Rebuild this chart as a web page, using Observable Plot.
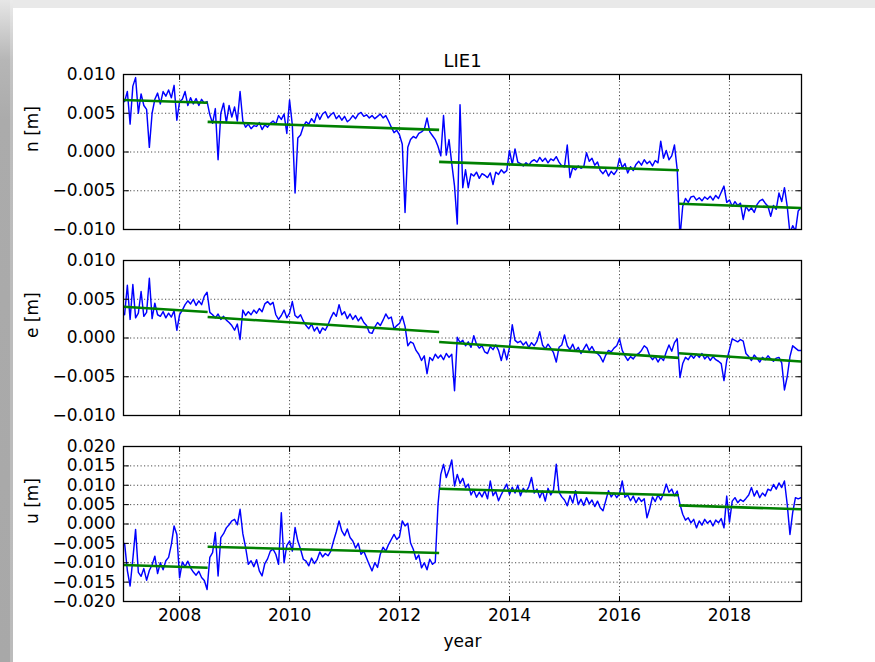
<!DOCTYPE html>
<html><head><meta charset="utf-8">
<script src="https://cdn.jsdelivr.net/npm/d3@7"></script>
<script src="https://cdn.jsdelivr.net/npm/@observablehq/plot@0.6"></script>
<style>
html,body{margin:0;padding:0;background:#fff;}
#wrap{position:relative;width:875px;height:662px;overflow:hidden;background:#fff;}
#wrap svg{display:block;}
.bandL{position:absolute;left:0;top:0;width:13px;height:662px;background:linear-gradient(to bottom,#e6e6e6 0px,#d2d2d2 25px,#b6b6b6 60px,#ababab 120px,#a8a8a8 100%);}
.bandL::after{content:"";position:absolute;right:0;top:0;width:3px;height:100%;background:rgba(255,255,255,0.22);}
.bandT{position:absolute;left:0;top:0;width:875px;height:8px;background:#e9e9e9;}
</style></head><body>
<div id="wrap"><div class="bandT"></div><div class="bandL"></div></div>
<script>
// Sampling of the series (decimal years)
const startYear = 2007.0;
const stepYear = 0.05;

// North component [mm]
const nValues = [
  6.5, 7.8, 3.6, 8.5, 9.6, 5.0, 7.5, 6.0, 5.5, 0.6, 5.0, 6.8, 7.6, 6.2, 7.8, 7.2, 8.0, 7.0, 8.6, 4.1,
  6.5, 6.8, 7.8, 6.0, 7.0, 6.2, 6.9, 6.0, 6.8, 6.3, 6.5, 4.8, 3.7, 5.6, -1.0, 5.0, 6.3, 3.8, 6.0, 4.5,
  5.8, 4.0, 7.8, 4.0, 3.2, 3.6, 3.0, 3.4, 3.3, 3.8, 2.9, 3.5, 3.2, 3.7, 4.0, 3.6, 4.7, 4.2, 4.9, 2.4,
  6.7, 3.5, -5.3, 1.8, 2.2, 3.3, 3.9, 3.6, 4.3, 3.8, 5.0, 4.2, 4.9, 5.2, 4.4, 4.8, 5.1, 4.3, 4.7, 4.1,
  4.6, 3.9, 4.2, 4.7, 4.3, 4.9, 5.1, 4.6, 4.8, 4.4, 4.7, 4.3, 4.6, 4.9, 4.4, 4.7, 4.0, 3.2, 2.5, 2.8,
  2.2, 1.0, -7.8, 0.6, 1.6, 2.0, 1.8, 2.4, 2.6, 2.9, 4.4, 2.6, 2.1, 1.6, 0.7, -0.5, 4.7, -0.4, 1.6, -1.5,
  -4.4, -9.3, 6.1, -4.6, -2.3, -4.6, -2.8, -3.1, -2.6, -3.4, -2.8, -3.0, -3.3, -2.7, -4.2, -2.6, -2.9, -2.3, -2.7, -2.4,
  0.2, -1.6, 0.4, -1.3, -1.5, -1.8, -1.4, -1.7, -1.2, -1.0, -1.3, -0.7, -1.2, -0.8, -1.4, -0.9, -1.1, -0.6, -1.3, -1.8,
  -1.9, 0.9, -3.3, -2.0, -2.3, -1.8, -2.1, -1.9, -0.1, -1.2, -0.8, -1.7, -1.3, -2.4, -2.8, -2.3, -3.1, -2.5, -2.9, -2.4,
  -0.8, -2.0, -1.5, -2.7, -1.9, -2.4, -1.6, -1.2, -1.7, -1.0, -1.5, -1.2, -1.8, -1.1, -1.4, 1.4, -0.8, 0.2, -1.0, -0.5,
  0.9, -2.3, -11.0, -7.0, -6.0, -6.5, -5.8, -5.7, -6.2, -5.9, -6.3, -5.8, -6.1, -5.7, -6.2, -5.6, -6.0, -5.2, -4.4, -6.5,
  -6.2, -7.0, -6.4, -6.9, -6.6, -8.7, -7.0, -7.6, -7.2, -7.8, -6.8, -6.3, -6.1, -6.6, -7.0, -8.3, -6.9, -7.4, -5.3, -6.4,
  -4.6, -7.0, -10.5, -9.5, -10.2, -7.6, -7.2
];

// East component [mm]
const eValues = [
  3.0, 6.8, 2.4, 6.9, 2.6, 3.2, 6.0, 2.8, 3.3, 7.7, 2.5, 4.5, 3.0, 2.8, 3.4, 2.6, 3.2, 2.7, 3.5, 1.0,
  3.0, 3.6, 4.3, 4.8, 4.4, 5.0, 4.2, 4.8, 4.3, 5.4, 5.9, 3.3, 3.0, 2.6, 3.1, 2.4, 2.8, 2.3, 2.0, 1.6,
  1.0, 1.8, -0.2, 3.6, 2.9, 3.4, 3.0, 3.6, 3.2, 3.8, 3.4, 4.4, 4.7, 4.3, 4.6, 3.0, 2.4, 2.9, 3.6, 2.6,
  3.2, 4.7, 2.9, 2.6, 3.0, 2.2, 1.6, 1.2, 1.8, 0.9, 1.4, 0.6, 1.3, 1.0, 1.7, 2.6, 3.3, 2.8, 4.3, 3.0,
  3.4, 2.5, 3.1, 2.4, 2.9, 2.2, 2.7, 2.0, 1.6, 0.7, 0.6, 1.4, 2.0, 1.6, 2.3, 3.1, 2.5, 2.7, 1.2, 1.6,
  1.9, 2.8, 1.5, -1.0, -0.5, -0.7, -1.6, -2.1, -2.9, -2.3, -4.6, -2.5, -2.9, -2.1, -2.6, -2.2, -2.8, -2.0, -2.5, -2.1,
  -6.8, 0.1, -0.6, -0.3, -1.0, -0.5, -1.2, 0.3, -0.8, -1.3, -1.0, -1.8, -2.0, -1.1, -1.5, -0.9, -1.6, -2.9, -1.4, -2.8,
  -1.2, 1.7, -0.3, -0.6, -0.4, -0.9, -0.5, -1.2, -0.6, -1.0, -0.4, 0.8, -0.9, -1.4, -0.8, -1.3, -1.9, -3.1, -1.2, -0.9,
  0.4, -1.0, -1.5, -0.8, -1.7, -1.2, -2.0, -1.4, -0.8, -1.6, -1.1, -1.8, -2.0, -2.4, -3.1, -2.2, -1.6, -1.8, -1.3, -1.0,
  -0.1, -1.6, -2.3, -2.9, -2.4, -2.7, -2.2, -2.0, -1.6, -1.0, -1.3, -2.3, -2.8, -2.4, -3.1, -2.5, -2.9, -1.8, -0.9, -1.7,
  -0.6, -0.1, -5.1, -3.3, -2.5, -2.8, -2.2, -2.6, -2.1, -2.5, -2.0, -2.7, -2.3, -2.9, -2.4, -2.8, -3.0, -3.3, -5.5, -2.9,
  -1.5, -0.1, -0.3, -0.5, -0.2, -0.4, -2.0, -2.4, -2.9, -2.2, -2.6, -3.1, -2.5, -2.8, -2.3, -2.7, -3.0, -2.6, -2.5, -3.2,
  -6.7, -5.0, -2.4, -1.0, -1.3, -1.6, -1.6
];

// Up component [mm]
const uValues = [
  -5.0, -12.0, -16.0, -9.0, -1.4, -12.5, -13.5, -11.5, -14.5, -12.0, -10.5, -8.3, -12.8, -10.0, -11.8, -9.5, -8.6, -5.3, -0.5, -2.7,
  -13.9, -9.8, -11.0, -9.6, -11.3, -12.4, -13.2, -12.2, -13.8, -14.6, -16.9, -8.6, -7.4, -2.2, -13.4, -3.5, -2.5, -1.0, -0.2, 0.8,
  1.2, -0.2, 3.8, -2.5, -6.0, -10.4, -9.5, -11.0, -9.2, -12.1, -13.4, -10.2, -9.0, -7.0, -6.5, -7.8, -10.4, 2.9, -10.0, -5.5,
  -4.4, -7.0, -0.9, -4.4, -6.5, -9.1, -9.6, -10.8, -8.8, -10.2, -9.2, -7.2, -8.5, -7.6, -8.2, -7.0, -4.4, -2.0, 0.8, -1.8,
  -3.0, -1.3, -3.5, -4.4, -6.2, -5.0, -7.8, -7.0, -8.8, -10.5, -12.1, -10.0, -11.2, -7.8, -6.0, -7.0, -5.3, -4.0, -2.7, -4.0,
  -3.2, 0.8, -0.5, 0.2, -4.9, -6.5, -9.1, -8.0, -11.3, -10.0, -11.8, -9.1, -10.4, -9.8, 5.1, 12.8, 15.4, 12.0, 14.0, 16.5,
  9.8, 12.8, 10.5, 11.8, 9.4, 10.3, 7.5, 8.8, 6.9, 8.2, 7.0, 8.6, 6.5, 11.1, 7.3, 8.4, 6.0, 7.6, 9.0, 10.3,
  7.6, 9.5, 8.0, 10.0, 7.3, 9.2, 8.3, 9.6, 12.0, 8.0, 9.0, 6.8, 8.5, 5.9, 9.2, 7.5, 8.8, 15.4, 8.2, 7.0,
  6.2, 4.7, 7.3, 5.4, 8.6, 5.0, 6.4, 4.8, 6.8, 5.2, 6.2, 4.5, 5.9, 4.2, 3.4, 6.0, 8.6, 7.0, 8.0, 6.8,
  7.8, 11.1, 6.9, 7.5, 6.0, 7.2, 5.5, 6.8, 5.8, 6.5, 1.6, 4.0, 7.0, 5.8, 7.5, 6.2, 7.8, 10.3, 8.2, 9.0,
  7.3, 8.5, 5.1, 2.5, 1.0, 1.6, 0.3, 1.2, -1.0, 0.8, -0.3, 1.2, 0.2, 0.9, -0.5, 1.0, 0.3, 1.4, -1.0, 7.2,
  0.5, 5.9, 6.8, 5.5, 6.3, 5.8, 6.6, 7.5, 9.4, 7.2, 8.6, 6.8, 8.0, 7.2, 9.0, 8.6, 10.2, 9.0, 10.6, 9.4,
  11.1, 5.1, -2.7, 3.0, 6.8, 6.5, 6.8
];

// Piecewise linear trend (green): segment boundaries and end values [mm]
const breakYears = [2006.98, 2008.51, 2012.72, 2017.08, 2019.31];
const nTrendStart = [6.7, 3.89, -1.28, -6.67];
const nTrendEnd   = [6.36, 2.86, -2.36, -7.23];
const eTrendStart = [4.04, 2.7, -0.52, -1.96];
const eTrendEnd   = [3.35, 0.78, -2.56, -3.04];
const uTrendStart = [-10.6, -5.87, 9.1, 4.8];
const uTrendEnd   = [-11.3, -7.5, 7.4, 3.8];

// Axes
const xTicks = [2008, 2010, 2012, 2014, 2016, 2018];
const neTicks = [-0.010, -0.005, 0.000, 0.005, 0.010];
const uTicks = [-0.020, -0.015, -0.010, -0.005, 0.000, 0.005, 0.010, 0.015, 0.020];
const title = "LIE1";
const xLabel = "year";

const xDomain = [breakYears[0], breakYears[breakYears.length - 1]];
const fmt = d3.format(".3f");
const tickShape = {draw(ctx, l) { ctx.moveTo(0, 0); ctx.lineTo(0, -l); }};

function panel({values, tStart, tEnd, yTicks, label, marginTop, marginBottom, showX, showTitle}) {
  const data = values.map((v, i) => ({t: startYear + i * stepYear, v: v / 1000}));
  const segs = tStart.map((s, i) => ({x1: breakYears[i], x2: breakYears[i + 1], y1: s / 1000, y2: tEnd[i] / 1000}));
  const yDomain = [yTicks[0], yTicks[yTicks.length - 1]];
  const grid = {stroke: "black", strokeOpacity: 1, strokeWidth: 0.7, strokeDasharray: "1.2,2.3"};
  const tk = {length: 5, anchor: "start", shape: tickShape, stroke: "black", strokeWidth: 1};
  const marks = [
    Plot.gridX(xTicks, grid),
    Plot.gridY(yTicks, grid),
    Plot.line(data, {x: "t", y: "v", stroke: "#0000ff", strokeWidth: 1.45, clip: true}),
    Plot.link(segs, {x1: "x1", y1: "y1", x2: "x2", y2: "y2", stroke: "#008000", strokeWidth: 2.6, clip: true}),
    Plot.vector(yTicks, {...tk, x: xDomain[0], y: d => d, rotate: 90}),
    Plot.vector(yTicks, {...tk, x: xDomain[1], y: d => d, rotate: 270}),
    Plot.vector(xTicks, {...tk, x: d => d, y: yDomain[0], rotate: 0}),
    Plot.vector(xTicks, {...tk, x: d => d, y: yDomain[1], rotate: 180}),
    Plot.axisY(yTicks, {tickSize: 0, tickPadding: 8, tickFormat: fmt, label: null}),
    Plot.frame({stroke: "black", strokeWidth: 1.3}),
    Plot.text([label], {frameAnchor: "left", dx: -91, rotate: -90, fontSize: 17, lineAnchor: "middle"})
  ];
  if (showX) {
    marks.push(Plot.axisX(xTicks, {tickSize: 0, tickPadding: 7, tickFormat: d => String(d), label: null}));
    marks.push(Plot.text([xLabel], {frameAnchor: "bottom", dy: 40, fontSize: 17, lineAnchor: "middle"}));
  }
  if (showTitle) {
    marks.push(Plot.text([title], {frameAnchor: "top", dy: -13, fontSize: 18, lineAnchor: "middle"}));
  }
  return Plot.plot({
    width: 875,
    height: marginTop + 155 + marginBottom,
    marginLeft: 123,
    marginRight: 74,
    marginTop,
    marginBottom,
    style: {fontFamily: "DejaVu Sans", fontSize: "17px", background: "transparent", color: "black", overflow: "visible"},
    x: {domain: xDomain, axis: null},
    y: {domain: yDomain, axis: null},
    marks
  });
}

const wrap = document.getElementById("wrap");
wrap.appendChild(panel({values: nValues, tStart: nTrendStart, tEnd: nTrendEnd, yTicks: neTicks, label: "n [m]", marginTop: 74, marginBottom: 16, showX: false, showTitle: true}));
wrap.appendChild(panel({values: eValues, tStart: eTrendStart, tEnd: eTrendEnd, yTicks: neTicks, label: "e [m]", marginTop: 15, marginBottom: 16, showX: false, showTitle: false}));
wrap.appendChild(panel({values: uValues, tStart: uTrendStart, tEnd: uTrendEnd, yTicks: uTicks, label: "u [m]", marginTop: 15, marginBottom: 61, showX: true, showTitle: false}));
</script>
</body></html>
